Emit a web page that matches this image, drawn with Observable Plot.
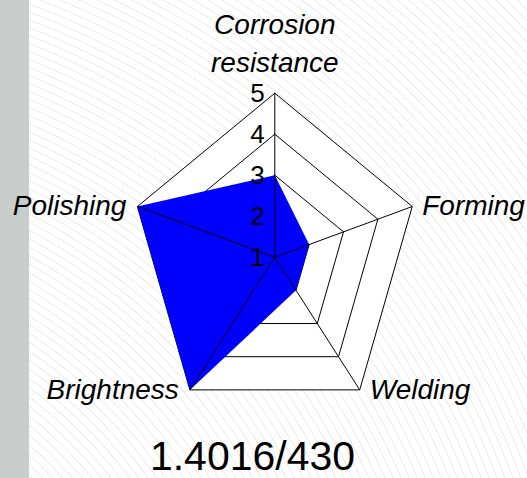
<!DOCTYPE html>
<html><head><meta charset="utf-8">
<script src="https://cdn.jsdelivr.net/npm/d3@7"></script>
<script src="https://cdn.jsdelivr.net/npm/@observablehq/plot@0.6"></script>
<style>
html,body{margin:0;padding:0;background:#fff;}
#wrap{position:relative;width:527px;height:478px;overflow:hidden;font-family:"Liberation Sans",Arial,sans-serif;
 background: repeating-radial-gradient(circle at -250px 760px, #fff 0px, #fff 6px, #e4e4e4 6.6px, #fff 7.4px);}
#strip{position:absolute;left:0;top:0;width:29px;height:478px;background:#c9cdcc;}
#chart{position:absolute;left:0;top:0;}
#title{position:absolute;left:0;width:505px;top:436px;text-align:center;font-size:41px;line-height:41px;color:#000;}
</style></head><body>
<div id="wrap"><div id="strip"></div><div id="chart"></div><div id="title"></div></div>
<script>
const categories = ["Corrosion\nresistance", "Forming", "Welding", "Brightness", "Polishing"];
const values = [3, 2, 2, 5, 5];
const ticks = [1, 2, 3, 4, 5];
const title = "1.4016/430";

const minV = ticks[0], maxV = ticks[ticks.length - 1];
const n = categories.length;
const ang = i => (90 - 360 / n * i) * Math.PI / 180;
const pt = (i, v) => ({x: (v - minV) * Math.cos(ang(i)), y: (v - minV) * Math.sin(ang(i))});

const rings = [];
ticks.filter(t => t > minV).forEach(t => {
  for (let k = 0; k <= n; k++) rings.push({level: t, ...pt(k % n, t)});
});
const outer = rings.filter(d => d.level === maxV);
const area = [];
for (let k = 0; k <= n; k++) area.push(pt(k % n, values[k % n]));
const spokes = categories.map((c, i) => ({x1: 0, y1: 0, x2: pt(i, maxV).x, y2: pt(i, maxV).y}));
const labels = categories.map((c, i) => ({name: c, i, ...pt(i, maxV)}));
const tickLabels = ticks.map(t => ({t, ...pt(0, t)}));

const R = maxV - minV;
const chart = Plot.plot({
  width: 527, height: 430, margin: 0,
  style: {background: "transparent", fontFamily: "Liberation Sans, Arial, sans-serif", overflow: "visible", color: "#000"},
  x: {domain: [-R, R], range: [129.8, 418.8], axis: null},
  y: {domain: [-R, R], range: [420.7, 92.7], axis: null},
  marks: [
    Plot.line(outer, {x: "x", y: "y", fill: "#fff", stroke: "none"}),
    Plot.line(rings, {x: "x", y: "y", z: "level", stroke: "#000", strokeWidth: 1}),
    Plot.line(area, {x: "x", y: "y", fill: "#0000ff", stroke: "none"}),
    Plot.link(spokes, {x1: "x1", y1: "y1", x2: "x2", y2: "y2", stroke: "#000", strokeWidth: 1}),
    Plot.text(tickLabels, {x: "x", y: "y", text: d => String(d.t), textAnchor: "end", dx: -10, fontSize: 26, fill: "#000"}),
    Plot.text(labels.filter(d => Math.abs(d.x) < 1e-6), {x: "x", y: "y", text: "name", textAnchor: "middle", lineAnchor: "bottom", lineHeight: 1.36, dy: -21, fontSize: 28, fontStyle: "italic", fill: "#000"}),
    Plot.text(labels.filter(d => d.x > 1e-6), {x: "x", y: "y", text: "name", textAnchor: "start", dx: 10, fontSize: 28, fontStyle: "italic", fill: "#000"}),
    Plot.text(labels.filter(d => d.x < -1e-6), {x: "x", y: "y", text: "name", textAnchor: "end", dx: -11, fontSize: 28, fontStyle: "italic", fill: "#000"})
  ]
});
document.getElementById("chart").appendChild(chart);
document.getElementById("title").textContent = title;
</script>
</body></html>
